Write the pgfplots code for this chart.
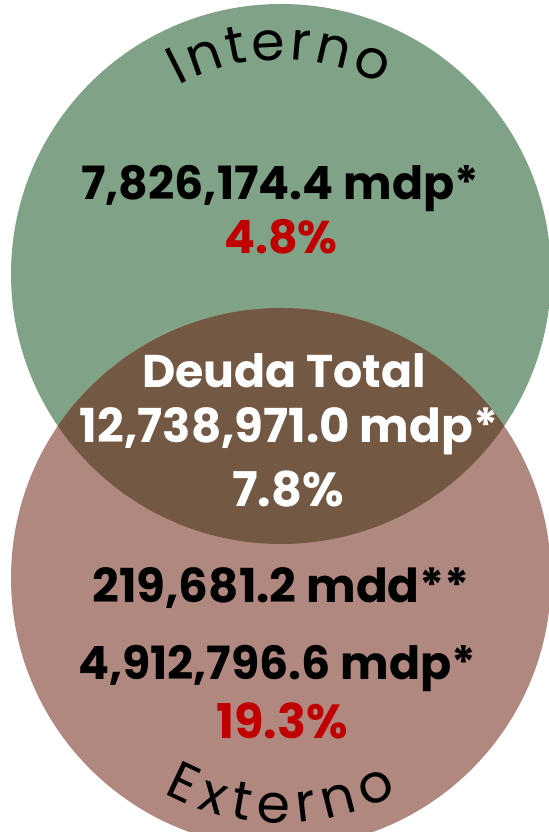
\documentclass[border=0pt]{standalone}
\usepackage{pgfplots}
\pgfplotsset{compat=1.18}
\usepackage{fontspec}
\setmainfont{Poppins}
\usetikzlibrary{calc,decorations.text}
\definecolor{vgreen}{RGB}{128,163,135}
\definecolor{vpink}{RGB}{176,136,128}
\definecolor{vbrown}{RGB}{115,88,67}
\definecolor{vred}{RGB}{192,0,0}
\begin{document}
\begin{tikzpicture}
\begin{axis}[width=549bp,height=832bp,scale only axis,
  xmin=0,xmax=549,ymin=0,ymax=832,axis lines=none,xtick=\empty,ytick=\empty,clip=true]
\fill[white] (axis cs:0,0) rectangle (axis cs:549,832);
\fill[vgreen] (axis cs:281,558) circle[radius=270bp];
\fill[vpink] (axis cs:281,254) circle[radius=270bp];
\begin{scope}
\clip (axis cs:281,558) circle[radius=270bp];
\fill[vbrown] (axis cs:281,254) circle[radius=270bp];
\end{scope}
% curved labels
\path[decorate,decoration={text along path,
  text={|\fontsize{54}{60}\selectfont|Interno},text align={fit to path}}]
  ($(axis cs:281,558)+(118.5:214bp)$) arc[start angle=118.5,end angle=62,radius=214bp];
\path[decorate,decoration={text along path,
  text={|\fontsize{54}{60}\selectfont|Externo},text align={fit to path}}]
  ($(axis cs:281,254)+(241.5:245bp)$) arc[start angle=241.5,end angle=298.5,radius=245bp];
% values
\node[anchor=base,font=\bfseries\fontsize{46}{52}\selectfont] at (axis cs:280,632) {7,826,174.4 mdp*};
\node[anchor=base,text=vred,font=\bfseries\fontsize{46}{52}\selectfont] at (axis cs:281,578) {4.8\%};
\node[anchor=base,text=white,font=\bfseries\fontsize{46}{52}\selectfont] at (axis cs:284,444) {Deuda Total};
\node[anchor=base,text=white,font=\bfseries\fontsize{47}{52}\selectfont] at (axis cs:289,389) {12,738,971.0 mdp*};
\node[anchor=base,text=white,font=\bfseries\fontsize{48}{52}\selectfont] at (axis cs:288,325) {7.8\%};
\node[anchor=base,font=\bfseries\fontsize{47}{52}\selectfont] at (axis cs:281,229) {219,681.2 mdd**};
\node[anchor=base,font=\bfseries\fontsize{46}{52}\selectfont] at (axis cs:277,152) {4,912,796.6 mdp*};
\node[anchor=base,text=vred,font=\bfseries\fontsize{48}{52}\selectfont] at (axis cs:282,93) {19.3\%};
\end{axis}
\end{tikzpicture}
\end{document}
